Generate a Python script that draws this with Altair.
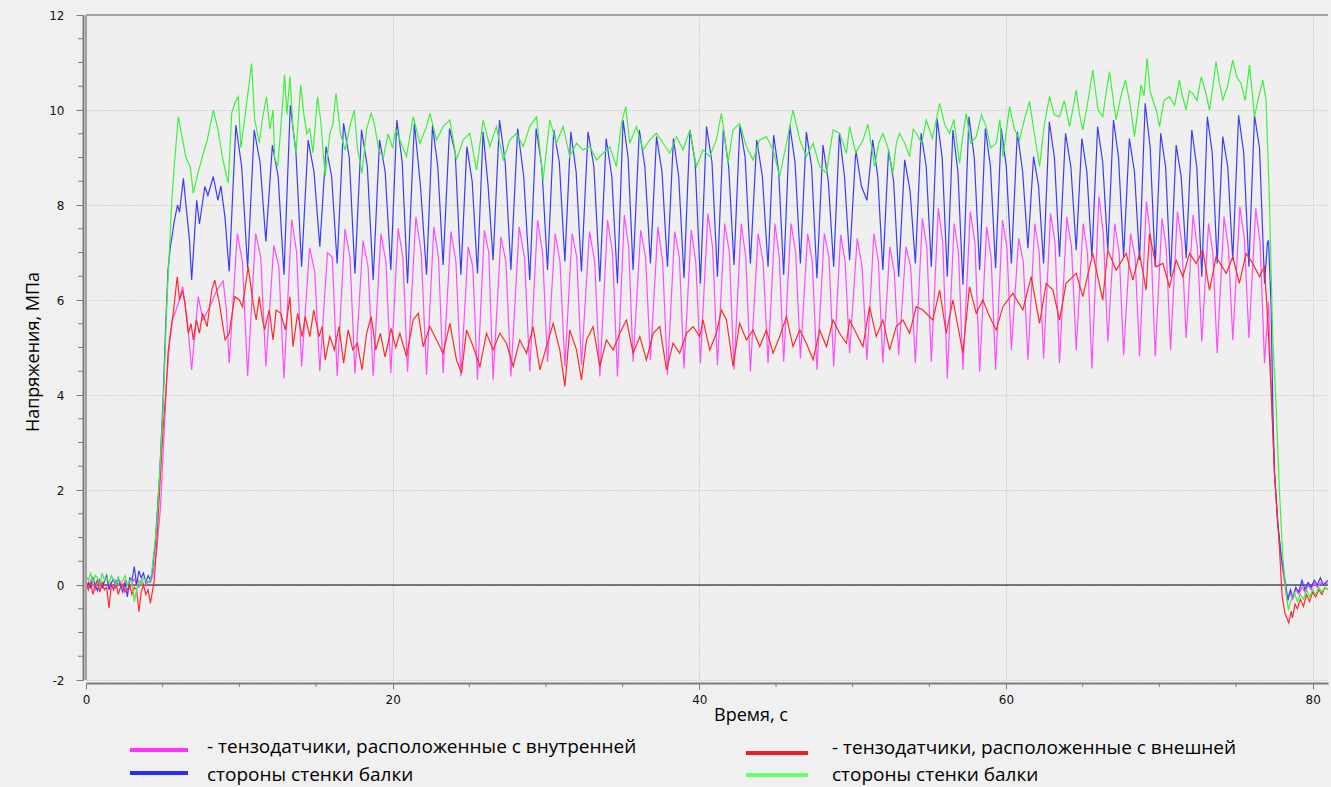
import altair as alt
import pandas as pd
import numpy as np

# ---------------- data ----------------
X_LABELS = [0, 20, 40, 60, 80]
X_MINOR = [5, 10, 15, 25, 30, 35, 45, 50, 55, 65, 70, 75]
Y_LABELS = [-2, 0, 2, 4, 6, 8, 10, 12]
Y_MINOR = [-1.5, -1, -0.5, 0.5, 1, 1.5, 2.5, 3, 3.5, 4.5, 5, 5.5, 6.5, 7, 7.5,
           8.5, 9, 9.5, 10.5, 11, 11.5]

# baseline before loading (time grid 0 .. 4.2 s every 0.15 s)
t_start = [round(0.15 * i, 2) for i in range(29)]
pink_start = [0.05, -0.08, 0.1, 0.02, -0.1, 0.12, 0.0, -0.05, 0.08, 0.15, -0.02, 0.05, -0.1, 0.1,
              0.0, 0.06, -0.05, 0.1, 0.02, -0.08, 0.05, 0.12, 0.0, -0.05, 0.1, 0.03, -0.02, 0.08, 0.05]
blue_start = [-0.1, 0.05, -0.05, 0.15, 0.0, -0.12, 0.1, -0.05, 0.08, 0.2, -0.1, 0.05, 0.12, -0.05,
              0.15, 0.0, -0.15, 0.05, -0.25, 0.15, 0.1, 0.39, 0.0, 0.3, 0.15, 0.25, 0.05, 0.2, 0.1]
green_start = [0.2, 0.1, 0.25, 0.05, 0.2, 0.15, 0.0, 0.25, 0.1, 0.15, 0.05, 0.2, 0.1, 0.0,
               0.15, 0.05, 0.1, 0.2, 0.0, 0.1, 0.05, -0.35, -0.1, 0.1, 0.0, 0.15, 0.1, 0.05, 0.1]
red_start = [0.1, -0.1, 0.05, -0.2, 0.0, 0.1, -0.15, 0.05, -0.1, -0.05, -0.49, 0.0, -0.1, 0.05,
             -0.2, -0.05, 0.02, -0.15, -0.1, 0.0, -0.2, -0.05, -0.1, -0.56, -0.15, 0.0, -0.2, -0.1, -0.39]

# oscillating gauges (pink = inner, blue = inner): cycle trough times and extrema
cycle_t = [9.34, 10.54, 11.73, 12.91, 14.06, 15.25, 16.38, 17.54, 18.73, 19.88,
           20.97, 22.21, 23.29, 24.45, 25.53, 26.55, 27.71, 28.94, 30.10, 31.23,
           32.31, 33.51, 34.66, 35.68, 36.81, 37.92, 39.00, 40.07, 41.18, 42.26,
           43.33, 44.48, 45.50, 46.59, 47.67, 48.76, 49.80, 50.93, 51.97, 53.00,
           54.09, 55.13, 56.17, 57.19, 58.28, 59.32, 60.35, 61.43, 62.45, 63.49,
           64.58, 65.60, 66.64, 67.67, 68.71, 69.73, 70.73, 71.75, 72.77, 73.77,
           74.79, 75.84, 76.86]
pink_trough = [4.67, 4.4, 4.6, 4.35, 4.6, 4.5, 4.4, 4.45, 4.4, 4.46,
               4.49, 4.42, 4.46, 4.39, 4.32, 4.32, 4.39, 4.49, 4.7, 4.6,
               4.63, 4.39, 4.39, 4.7, 4.74, 4.42, 4.56, 4.67, 4.63, 4.53,
               4.49, 4.67, 4.7, 4.77, 4.53, 4.6, 4.88, 4.74, 4.67, 4.84,
               4.67, 4.7, 4.35, 4.53, 4.49, 4.53, 4.95, 4.74, 4.77, 4.67,
               4.95, 4.56, 5.12, 4.84, 4.81, 4.81, 4.95, 5.2, 5.12, 4.88,
               5.16, 5.2, 4.67]
pink_peak = [7.4, 7.4, 7.15, 7.7, 7.1, 7.0, 7.5, 7.25, 7.4, 7.51,
             7.75, 7.54, 7.44, 7.12, 7.47, 7.33, 7.54, 7.68, 7.4, 7.4,
             7.44, 7.68, 7.79, 7.47, 7.54, 7.44, 7.47, 7.82, 7.61, 7.61,
             7.4, 7.61, 7.61, 7.4, 7.4, 7.37, 7.3, 7.4, 7.12, 7.12,
             7.72, 7.93, 7.61, 7.86, 7.54, 7.68, 7.3, 7.61, 7.82, 7.75,
             7.61, 8.18, 7.61, 7.4, 8.07, 7.72, 7.86, 7.79, 7.61, 7.75,
             7.96, 7.93]
pink_shoulder = [6.8, 6.9, 6.7, 7.0, 6.6, 6.9, 6.9, 6.7, 6.8, 6.9,
                 7.0, 6.9, 6.8, 6.7, 7.0, 6.8, 6.9, 7.0, 6.8, 6.9,
                 6.8, 7.0, 7.1, 6.9, 6.8, 6.9, 6.8, 7.1, 7.0, 6.9,
                 6.8, 6.9, 7.0, 6.8, 6.9, 6.8, 6.7, 6.8, 6.6, 6.7,
                 7.1, 7.2, 7.0, 7.2, 6.9, 7.1, 6.8, 7.0, 7.2, 7.1,
                 7.0, 7.4, 7.0, 6.9, 7.3, 7.1, 7.2, 7.1, 7.0, 7.1,
                 7.3, 7.2]
blue_trough = [6.6, 6.67, 7.23, 6.53, 6.7, 7.12, 6.77, 6.56, 6.42, 6.63,
               6.35, 6.53, 6.74, 6.53, 6.56, 6.84, 6.63, 6.42, 6.63, 6.81,
               6.6, 6.39, 6.35, 6.63, 6.77, 6.7, 6.46, 6.35, 6.49, 6.74,
               6.77, 6.7, 6.53, 6.77, 6.46, 6.7, 6.84, 8.1, 6.63, 6.49,
               6.77, 6.7, 6.49, 6.32, 6.63, 6.67, 6.77, 7.09, 6.77, 6.91,
               7.05, 6.91, 7.05, 6.91, 6.84, 6.7, 6.49, 6.88, 6.49, 6.77,
               6.84, 6.7, 6.35]
blue_peak = [9.68, 9.58, 9.26, 10.1, 9.37, 9.23, 9.72, 9.58, 9.37, 9.79,
             9.72, 9.68, 9.61, 9.23, 9.54, 9.79, 9.61, 9.61, 9.58, 9.54,
             9.54, 9.4, 9.79, 9.58, 9.44, 9.4, 9.58, 9.65, 9.61, 9.68,
             9.37, 9.47, 9.68, 9.54, 9.26, 9.51, 9.16, 9.37, 9.16, 8.95,
             9.51, 9.82, 9.58, 9.86, 9.61, 9.61, 9.54, 9.02, 9.75, 9.51,
             9.4, 9.65, 9.79, 9.4, 10.14, 9.51, 9.26, 9.58, 9.86, 9.44,
             9.89, 9.89]
blue_shoulder = [8.8, 8.9, 8.6, 9.1, 8.7, 8.6, 9.0, 8.8, 8.7, 8.9,
                 8.4, 8.8, 9.1, 8.5, 8.4, 8.9, 8.6, 8.8, 8.9, 8.7,
                 8.8, 8.6, 9.0, 8.8, 8.7, 8.6, 8.9, 8.9, 8.8, 9.0,
                 8.6, 8.7, 8.9, 8.8, 8.5, 8.6, 8.4, 8.6, 8.5, 8.3,
                 8.8, 9.0, 8.7, 9.0, 8.8, 8.8, 8.7, 8.4, 9.0, 8.8,
                 8.7, 8.9, 9.0, 8.7, 9.2, 8.8, 8.6, 8.8, 9.1, 8.8,
                 9.1, 9.2]

pink_lead = [(4.35, 0.2), (4.6, 0.7), (4.85, 1.6), (5.05, 2.9), (5.26, 4.3), (5.45, 5.1),
             (5.64, 5.58), (6.0, 5.9), (6.3, 6.28), (6.6, 5.6), (6.89, 4.53), (7.32, 6.07),
             (7.63, 5.58), (8.08, 5.86), (8.52, 6.2), (8.95, 6.4), (9.15, 5.8)]
pink_tail = [(77.12, 5.96), (77.31, 4.0), (77.51, 2.4), (77.71, 1.3), (77.97, 0.5), (78.23, -0.1),
             (78.36, -0.35), (78.5, -0.15), (78.7, -0.3), (78.9, -0.1), (79.1, -0.2), (79.3, -0.05),
             (79.5, -0.15), (79.7, 0.0), (79.9, -0.1), (80.1, 0.05), (80.3, -0.05), (80.5, 0.05),
             (80.7, 0.0), (81.0, 0.05)]
blue_lead = [(4.3, 0.25), (4.5, 0.8), (4.8, 2.3), (5.04, 4.0), (5.2, 5.5), (5.35, 6.63), (5.5, 7.12),
             (5.64, 7.4), (5.75, 7.65), (5.97, 8.0), (6.1, 7.85), (6.35, 8.56), (6.55, 7.9),
             (6.75, 7.26), (6.89, 6.42), (7.22, 8.1), (7.4, 7.6), (7.75, 8.39), (7.95, 8.2),
             (8.3, 8.6), (8.6, 8.1), (8.8, 8.4), (9.06, 7.75)]
blue_tail = [(77.05, 7.2), (77.12, 7.26), (77.29, 5.86), (77.40, 3.75), (77.51, 2.35), (77.73, 1.3),
             (77.95, 0.6), (78.23, 0.04), (78.38, -0.32), (78.55, -0.1), (78.7, -0.25), (78.9, -0.05),
             (79.1, -0.15), (79.3, 0.1), (79.5, -0.1), (79.7, 0.05), (79.9, -0.05), (80.1, 0.1),
             (80.3, 0.0), (80.5, 0.15), (80.7, 0.0), (81.0, 0.1)]

# noisy gauges (green = outer, red = outer)
green_a = [(4.3, 0.3), (4.6, 1.2), (4.85, 2.6), (5.05, 3.9), (5.28, 6.0), (5.6, 8.1), (5.75, 8.8),
           (6.02, 9.86), (6.2, 9.55), (6.52, 9.0), (6.8, 8.8), (7.0, 8.25), (7.3, 8.67), (7.65, 9.09),
           (7.9, 9.35), (8.3, 10.0), (8.6, 9.6), (8.9, 9.0), (9.1, 8.7), (9.28, 8.46), (9.5, 9.93),
           (9.7, 10.14), (9.93, 10.28), (10.1, 9.2), (10.3, 9.7), (10.5, 10.2), (10.8, 10.98),
           (11.0, 9.8), (11.3, 9.3), (11.5, 9.8), (11.77, 10.28), (12.0, 9.6), (12.2, 10.0),
           (12.3, 9.0), (12.5, 8.81), (12.7, 9.6), (12.95, 10.74), (13.1, 9.9), (13.3, 10.7),
           (13.5, 9.6), (13.7, 9.1), (14.0, 10.53), (14.2, 9.93), (14.4, 9.5), (14.6, 9.6),
           (14.8, 9.1), (15.1, 10.28), (15.3, 9.8), (15.6, 8.6), (15.9, 9.5), (16.1, 9.7),
           (16.3, 10.35), (16.6, 9.5), (16.9, 9.15), (17.2, 9.65), (17.5, 10.0), (17.7, 9.2),
           (18.0, 8.67), (18.3, 9.6), (18.6, 9.93), (18.8, 9.72), (19.1, 9.15), (19.4, 9.0),
           (19.7, 9.5), (20.0, 9.2), (20.2, 9.6)]
green_b = [(20.47, 9.37), (20.90, 9.02), (21.34, 9.86), (21.77, 9.3), (22.21, 9.65), (22.43, 9.93),
           (22.86, 9.37), (23.29, 9.65), (23.73, 9.79), (24.16, 8.95), (24.60, 9.37), (25.03, 9.51),
           (25.47, 8.74), (25.90, 9.79), (26.34, 9.23), (26.77, 9.65), (27.21, 8.95), (27.64, 9.37),
           (28.08, 9.51), (28.51, 9.23), (28.94, 9.65), (29.38, 9.86), (29.81, 8.53), (30.25, 9.79),
           (30.68, 9.3), (31.12, 9.65), (31.55, 9.02), (31.99, 9.3), (32.42, 9.16), (32.86, 9.23),
           (33.29, 8.95), (33.73, 9.09), (34.16, 9.23), (34.59, 8.81), (34.92, 9.72), (35.20, 10.07),
           (35.46, 9.3), (35.90, 9.65), (36.33, 9.16), (36.77, 9.37), (37.20, 9.51), (37.64, 9.3),
           (38.07, 9.09), (38.51, 9.44), (38.94, 9.16), (39.38, 9.58), (39.81, 8.81), (40.24, 9.16),
           (40.68, 9.02), (41.11, 9.37), (41.44, 9.93), (41.87, 8.88), (42.20, 9.58), (42.63, 9.72),
           (43.07, 9.23), (43.50, 8.95), (43.94, 9.37), (44.37, 9.44), (44.81, 9.16), (45.24, 8.6),
           (45.68, 9.3), (46.11, 10.0), (46.55, 9.37), (46.98, 9.02), (47.42, 9.3), (47.85, 8.81),
           (48.29, 8.67), (48.72, 9.58), (49.15, 9.51), (49.59, 9.09)]
green_c = [(49.80, 9.65), (50.2, 9.1), (50.67, 9.37), (51.0, 9.7), (51.43, 8.81), (51.7, 9.3),
           (51.97, 9.51), (52.3, 9.2), (52.62, 8.67), (52.85, 9.3), (53.06, 9.51), (53.4, 9.3),
           (53.71, 9.02), (53.95, 9.6), (54.15, 9.51), (54.5, 9.3), (54.80, 9.79), (55.2, 9.4),
           (55.67, 10.14), (56.0, 9.7), (56.32, 9.51), (56.6, 9.8), (56.97, 8.88), (57.2, 9.5),
           (57.41, 9.93), (57.7, 9.3), (58.06, 9.44), (58.4, 9.9), (58.71, 9.65), (59.0, 9.2),
           (59.36, 9.3), (59.6, 9.8), (59.80, 9.02), (60.0, 9.5), (60.23, 10.07), (60.55, 9.6),
           (60.88, 9.37), (61.2, 9.8), (61.53, 10.18), (61.85, 9.5), (62.19, 8.81), (62.5, 9.7),
           (62.84, 10.28), (63.15, 9.9), (63.49, 9.86), (63.8, 10.2), (64.14, 9.65), (64.35, 10.0),
           (64.58, 10.42), (64.8, 9.9), (65.01, 9.58), (65.3, 10.1), (65.66, 10.84), (66.0, 10.0),
           (66.31, 9.86), (66.5, 10.3), (66.75, 10.81), (67.0, 10.2), (67.18, 9.79), (67.5, 10.3),
           (67.79, 10.63), (68.1, 10.1), (68.38, 9.44), (68.6, 10.0), (68.81, 10.53), (69.0, 10.3),
           (69.20, 11.09), (69.4, 10.4), (69.57, 10.21), (69.8, 10.0), (70.01, 9.65), (70.3, 10.2),
           (70.66, 10.28), (71.0, 10.1), (71.31, 10.63), (71.5, 10.3), (71.75, 10.0), (71.95, 10.4),
           (72.18, 10.35), (72.45, 10.2), (72.73, 10.7), (73.0, 10.4), (73.27, 10.0), (73.5, 10.5),
           (73.70, 11.02), (73.9, 10.6), (74.14, 10.21), (74.45, 10.5), (74.79, 11.05), (75.05, 10.7),
           (75.33, 10.56), (75.6, 10.2), (75.88, 10.95), (76.05, 10.4), (76.20, 9.86), (76.5, 10.3),
           (76.75, 10.63), (76.96, 10.21)]
green_tail = [(77.18, 8.1), (77.40, 5.16), (77.62, 3.75), (77.83, 2.0), (78.05, 0.6), (78.27, -0.18),
              (78.42, -0.53), (78.6, -0.3), (78.8, -0.15), (79.0, -0.35), (79.2, -0.2), (79.4, -0.3),
              (79.6, -0.1), (79.8, -0.25), (80.0, -0.1), (80.2, -0.2), (80.4, -0.05), (80.6, -0.15),
              (80.8, -0.05), (81.0, -0.1)]

red_a = [(4.45, 0.1), (4.6, 0.8), (4.85, 2.3), (5.05, 3.4), (5.22, 4.1), (5.35, 4.88), (5.5, 5.3),
         (5.69, 5.72), (5.95, 6.49), (6.1, 6.0), (6.3, 6.2), (6.45, 5.93), (6.67, 5.3), (6.85, 5.5),
         (7.0, 5.16), (7.2, 5.58), (7.4, 5.3), (7.6, 5.72), (7.9, 5.44), (8.2, 6.21), (8.4, 6.42),
         (8.7, 5.93), (9.07, 5.16), (9.34, 5.3), (9.7, 6.07), (10.0, 6.0), (10.2, 5.86), (10.58, 6.7),
         (10.9, 5.93), (11.1, 5.58), (11.3, 6.07), (11.5, 5.6), (11.65, 5.37), (11.95, 5.79),
         (12.2, 5.16), (12.4, 5.79), (12.7, 5.72), (13.0, 5.37), (13.3, 6.07), (13.5, 5.02),
         (13.8, 5.72), (14.1, 5.23), (14.3, 5.65), (14.6, 5.23), (14.85, 5.79), (15.2, 5.23),
         (15.4, 5.44), (15.6, 4.74), (15.9, 5.23), (16.2, 4.95), (16.5, 5.44), (16.8, 4.67),
         (17.1, 5.37), (17.4, 4.95), (17.7, 5.09), (18.0, 4.53), (18.3, 5.3), (18.6, 5.65),
         (18.9, 4.95), (19.2, 5.3), (19.5, 4.8), (19.9, 5.4), (20.2, 5.0)]
red_b = [(20.47, 5.3), (20.90, 4.81), (21.34, 5.58), (21.67, 5.72), (21.99, 5.02), (22.43, 5.44),
         (22.86, 5.16), (23.29, 4.88), (23.73, 5.51), (24.16, 4.74), (24.49, 4.46), (24.82, 5.37),
         (25.25, 5.02), (25.69, 4.6), (26.12, 5.3), (26.55, 4.95), (26.99, 5.3), (27.42, 5.09),
         (27.86, 4.6), (28.29, 5.16), (28.73, 4.88), (29.16, 5.44), (29.60, 4.53), (30.03, 5.02),
         (30.47, 5.51), (30.90, 4.95), (31.23, 4.18), (31.55, 5.37), (31.99, 4.95), (32.31, 4.32),
         (32.64, 5.16), (33.07, 5.44), (33.51, 4.6), (33.94, 5.16), (34.38, 4.95), (34.81, 5.3),
         (35.25, 5.58), (35.68, 4.88), (36.12, 5.23), (36.55, 4.74), (36.99, 5.3), (37.42, 5.44),
         (37.86, 4.53), (38.29, 5.09), (38.72, 4.88), (39.16, 5.3), (39.59, 5.44), (40.03, 5.23),
         (40.24, 5.58), (40.68, 4.95), (41.11, 5.3), (41.44, 5.79), (41.77, 5.58), (42.20, 4.6),
         (42.63, 5.51), (43.07, 5.16), (43.50, 5.37), (43.94, 5.02), (44.37, 5.37), (44.81, 4.88),
         (45.24, 5.23), (45.68, 5.65), (46.11, 5.02), (46.55, 5.37), (46.98, 5.09), (47.42, 4.74),
         (47.85, 5.37), (48.29, 5.02), (48.72, 5.58), (49.15, 5.3), (49.59, 5.09)]
red_c = [(49.80, 5.58), (50.23, 5.3), (50.67, 5.02), (51.10, 5.86), (51.54, 5.23), (51.97, 5.58),
         (52.41, 4.95), (52.84, 5.44), (53.28, 5.58), (53.71, 5.3), (54.15, 5.86), (54.58, 5.79),
         (55.23, 5.58), (55.67, 6.21), (56.10, 5.3), (56.54, 6.0), (57.19, 4.88), (57.62, 6.28),
         (58.06, 5.72), (58.49, 6.0), (58.93, 5.65), (59.36, 5.37), (59.80, 5.86), (60.45, 6.14),
         (61.10, 5.79), (61.64, 6.49), (62.19, 5.51), (62.62, 6.35), (63.06, 6.21), (63.49, 5.58),
         (63.92, 6.35), (64.58, 6.56), (65.01, 6.07), (65.66, 6.98), (66.31, 6.0), (66.64, 7.05),
         (67.18, 6.63), (67.84, 6.98), (68.27, 6.42), (68.71, 6.98), (69.14, 6.21), (69.36, 7.4),
         (69.79, 6.7), (70.23, 6.77), (70.66, 6.28), (71.10, 6.84), (71.53, 6.49), (71.97, 6.98),
         (72.40, 6.77), (72.83, 7.05), (73.27, 6.21), (73.70, 6.91), (74.36, 6.56), (74.79, 6.91),
         (75.22, 6.35), (75.66, 6.98), (76.09, 6.77), (76.53, 6.49), (76.85, 6.7), (77.07, 5.58)]
red_tail = [(77.29, 4.1), (77.51, 2.35), (77.83, 0.8), (78.01, -0.25), (78.2, -0.6), (78.44, -0.8),
            (78.6, -0.55), (78.68, -0.7), (78.85, -0.4), (79.0, -0.5), (79.2, -0.3), (79.4, -0.45),
            (79.6, -0.2), (79.8, -0.35), (80.0, -0.15), (80.2, -0.25), (80.4, -0.1), (80.6, -0.2),
            (80.8, -0.05), (81.0, -0.1)]

LEGEND_TEXT = ["- тензодатчики, расположенные с внутренней", "стороны стенки балки",
               "- тензодатчики, расположенные с внешней", "стороны стенки балки"]
Y_TITLE = "Напряжения,  МПа"
X_TITLE = "Время, с"

# ---------------- build the series ----------------
def cyclic(trough, peak, shoulder, fp, fs):
    pts = []
    for i in range(len(cycle_t)):
        pts.append((cycle_t[i], trough[i]))
        if i < len(cycle_t) - 1:
            dt = cycle_t[i + 1] - cycle_t[i]
            pts.append((cycle_t[i] + fp * dt, peak[i]))
            pts.append((cycle_t[i] + fs * dt, shoulder[i]))
    return pts


def frame(name, pts):
    df = pd.DataFrame(pts, columns=["t", "v"])
    df["series"] = name
    df["o"] = range(len(df))
    return df


pink_pts = list(zip(t_start, pink_start)) + pink_lead + cyclic(pink_trough, pink_peak, pink_shoulder, 0.44, 0.72) + pink_tail
blue_pts = list(zip(t_start, blue_start)) + blue_lead + cyclic(blue_trough, blue_peak, blue_shoulder, 0.36, 0.68) + blue_tail
green_pts = list(zip(t_start, green_start)) + green_a + green_b + green_c + green_tail
red_pts = list(zip(t_start, red_start)) + red_a + red_b + red_c + red_tail

W, H = 1242, 665
xscale = alt.Scale(domain=[0, 81], nice=False, zero=False)
yscale = alt.Scale(domain=[-2, 12], nice=False, zero=False)

FONT = "Open Sans"
XAXIS = alt.Axis(values=X_LABELS, labelExpr="'' + datum.value", title=None, grid=True,
                 gridDash=[1, 2], gridColor="#b5b5b5", gridWidth=1, domainColor="#7d7d7d",
                 domainWidth=2, tickColor="#7d7d7d", tickSize=6, labelFont="DejaVu Sans",
                 labelFontSize=12, labelColor="#111111", labelPadding=5, offset=3, labelFlush=False)
YAXIS = alt.Axis(values=Y_LABELS, labelExpr="'' + datum.value", title=None, grid=True,
                 gridDash=[1, 2], gridColor="#b5b5b5", gridWidth=1, domainColor="#7d7d7d",
                 domainWidth=2, tickColor="#7d7d7d", tickSize=7, labelFont="DejaVu Sans",
                 labelFontSize=12, labelColor="#111111", labelPadding=12, offset=3, labelFlush=False)


def line(df, color):
    return alt.Chart(df).mark_line(color=color, strokeWidth=1.2, clip=True).encode(
        x=alt.X("t:Q", scale=xscale, axis=XAXIS),
        y=alt.Y("v:Q", scale=yscale, axis=YAXIS),
        order="o:Q",
    )


one = pd.DataFrame({"k": [0]})

zero_line = alt.Chart(one).mark_rule(color="#000000", strokeWidth=1).encode(
    y=alt.Y(datum=0, scale=yscale, axis=YAXIS))
top_border = alt.Chart(one).mark_rule(color="#a3a3a3", strokeWidth=2).encode(
    y=alt.Y(datum=12, scale=yscale, axis=YAXIS))
left_border = alt.Chart(one).mark_rule(color="#a3a3a3", strokeWidth=2).encode(
    x=alt.X(datum=0, scale=xscale, axis=XAXIS))

y_minor = alt.Chart(pd.DataFrame({"v": Y_MINOR})).mark_rule(color="#7d7d7d").encode(
    y=alt.Y("v:Q", scale=yscale, axis=YAXIS), x=alt.value(-8), x2=alt.value(-3))
x_minor = alt.Chart(pd.DataFrame({"t": X_MINOR})).mark_rule(color="#7d7d7d").encode(
    x=alt.X("t:Q", scale=xscale, axis=XAXIS), y=alt.value(H + 3), y2=alt.value(H + 7))


# legend (drawn below the plot area)
def swatch(color, x0, x1, y):
    return alt.Chart(one).mark_rule(color=color, strokeWidth=4).encode(
        x=alt.value(x0), x2=alt.value(x1), y=alt.value(y))


def label(text, x, y, size=19, angle=0, align="left"):
    return alt.Chart(pd.DataFrame({"s": [text]})).mark_text(
        font=FONT, fontSize=size, color="#000000", align=align, baseline="middle", angle=angle
    ).encode(text="s:N", x=alt.value(x), y=alt.value(y))


legend = [
    swatch("#ff33ff", 44, 102, 735), swatch("#2a2aff", 44, 102, 758),
    swatch("#ee1c24", 660, 722, 738), swatch("#66ff66", 660, 722, 760),
    label(LEGEND_TEXT[0], 121, 732), label(LEGEND_TEXT[1], 121, 760),
    label(LEGEND_TEXT[2], 746, 733), label(LEGEND_TEXT[3], 746, 760),
    label(X_TITLE, 665, 701, size=18, align="center"),
    label(Y_TITLE, -52, 337, size=18, angle=270, align="center"),
]

chart = alt.layer(
    zero_line,
    line(frame("pink", pink_pts), "#ff4cff"),
    line(frame("blue", blue_pts), "#3c3cf5"),
    line(frame("red", red_pts), "#ff2a2a"),
    line(frame("green", green_pts), "#3ef03e"),
    top_border, left_border, y_minor, x_minor,
    *legend,
).properties(
    width=W, height=H,
    autosize=alt.AutoSizeParams(type="none"),
    padding={"left": 86, "top": 15, "right": 3, "bottom": 107},
    background="#f0f0f0",
).configure_view(fill="#efefef", stroke=None)

chart.save("out.html", embed_options={"renderer": "svg", "actions": False})
